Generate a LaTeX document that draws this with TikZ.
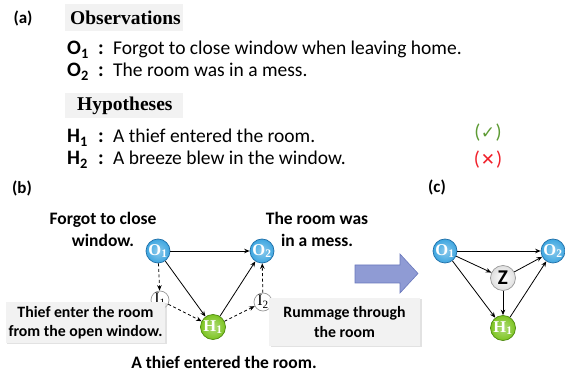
\documentclass[tikz,border=0pt]{standalone}
\usepackage{fontspec}
\setmainfont{Carlito}
\newfontfamily\headfont{Liberation Serif}
\newfontfamily\symfont{DejaVu Sans}
\usetikzlibrary{arrows.meta,shadows}

\definecolor{obsblue}{HTML}{3EA6E0}
\definecolor{obsedge}{HTML}{1F6FA8}
\definecolor{hypgreen}{HTML}{7CC420}
\definecolor{hypedge}{HTML}{4E8A10}
\definecolor{boxgray}{HTML}{F2F2F2}
\definecolor{okgreen}{HTML}{5E9B35}
\definecolor{badred}{HTML}{F0202A}
\definecolor{arrowfill}{HTML}{8F9BD4}
\definecolor{arrowedge}{HTML}{6A78BC}

\tikzset{
  base/.style={circle, inner sep=0pt, line width=0.7pt},
  obsnode/.style={base, minimum size=24pt, draw=obsedge,
    inner color=obsblue!60!white, outer color=obsblue,
    text=white, font=\headfont\bfseries\fontsize{16.5}{16.5}\selectfont},
  hypnode/.style={base, minimum size=25pt, draw=hypedge,
    inner color=hypgreen!60!white, outer color=hypgreen,
    text=white, font=\headfont\bfseries\fontsize{16.5}{16.5}\selectfont},
  midnode/.style={base, minimum size=18pt, draw=gray!80, fill=white,
    text=black, font=\headfont\fontsize{16}{16}\selectfont},
  znode/.style={base, minimum size=25pt, draw=gray!80,
    inner color=white, outer color=gray!25,
    text=black, font=\bfseries\fontsize{21}{21}\selectfont},
  link/.style={-{Stealth[length=5.5pt,width=4.5pt]}, line width=0.8pt},
  dlink/.style={link, dash pattern=on 3pt off 2.5pt},
  notebox/.style={fill=boxgray, align=center, inner sep=3pt,
    font=\bfseries\fontsize{15.8}{19.5}\selectfont,
    drop shadow={shadow xshift=1.5pt, shadow yshift=-1.5pt, fill=gray!45}},
  caption/.style={align=center, font=\bfseries\fontsize{17.5}{22}\selectfont},
  panel/.style={font=\bfseries\fontsize{17}{17}\selectfont},
  heading/.style={anchor=base west, inner sep=0pt,
    font=\headfont\bfseries\fontsize{19.5}{19.5}\selectfont},
  entry/.style={anchor=base west, inner sep=0pt, font=\fontsize{19.5}{19.5}\selectfont},
  tag/.style={entry, font=\bfseries\fontsize{20.5}{20.5}\selectfont},
  verdict/.style={inner sep=0pt, font=\fontsize{20}{20}\selectfont},
}

\begin{document}
\begin{tikzpicture}[x=1pt, y=-1pt]
\useasboundingbox (0,0) rectangle (565,371);

% ---- (a) observations and hypotheses
\node[panel] (pa) at (23,18) {(a)};

\fill[boxgray] (65,4) rectangle (183,31);
\node[heading] (obshead) at (70,25) {Observations};

\node[tag] (o1lab) at (67,55) {O\textsubscript{1}};
\node[tag] (o1col) at (98,55) {:};
\node[entry] (o1txt) at (113,55) {Forgot to close window when leaving home.};
\node[tag] (o2lab) at (67,77) {O\textsubscript{2}};
\node[tag] (o2col) at (98,77) {:};
\node[entry] (o2txt) at (113,77) {The room was in a mess.};

\fill[boxgray] (65,93) rectangle (183,118);
\node[heading] (hyphead) at (77,111) {Hypotheses};

\node[tag] (h1lab) at (67,143) {H\textsubscript{1}};
\node[tag] (h1col) at (98,143) {:};
\node[entry] (h1txt) at (113,143) {A thief entered the room.};
\node[tag] (h2lab) at (67,165) {H\textsubscript{2}};
\node[tag] (h2col) at (98,165) {:};
\node[entry] (h2txt) at (113,165) {A breeze blew in the window.};

\node[verdict, text=okgreen] (okmark) at (488,133) {(\kern0.5pt{\symfont\fontsize{17}{17}\selectfont ✓}\kern0.5pt)};
\node[verdict, text=badred] (badmark) at (488,160) {(\kern1pt{\symfont\fontsize{17}{17}\selectfont ✕}\kern1pt)};

% ---- (b) explanation graph
\node[panel] (pb) at (22,188) {(b)};

\node[obsnode] (O1) at (158,251) {O\textsubscript{1}};
\node[obsnode] (O2) at (262,251) {O\textsubscript{2}};
\node[midnode] (I1) at (160,300) {I\textsubscript{1}};
\node[midnode] (I2) at (263,302) {I\textsubscript{2}};
\node[hypnode] (H1) at (213,327) {H\textsubscript{1}};

\draw[link] (O1) -- (O2);
\draw[link] (O1) -- (H1);
\draw[link] (H1) -- (O2);
\draw[dlink] (O1) -- (I1);
\draw[dlink] (I1) -- (H1);
\draw[dlink] (H1) -- (I2);
\draw[dlink] (I2) -- (O2);

\node[caption] (capO1) at (103,229) {Forgot to close\\window.};
\node[caption] (capO2) at (317,229) {The room was\\in a mess.};
\node[caption, anchor=base, inner sep=0pt] (capH1) at (224,368) {A thief entered the room.};

\node[notebox, minimum width=155pt, minimum height=41pt] (noteI1) at (85.5,322.5) {Thief enter the room\\from the open window.};
\node[notebox, minimum width=151pt, minimum height=48pt] (noteI2) at (344.5,322) {Rummage through\\the room};

% ---- block arrow between panels
\filldraw[fill=arrowfill, draw=arrowedge, line width=0.6pt]
  (355,265) -- (400,265) -- (400,254) -- (418,273.5) -- (400,293) -- (400,283) -- (355,283) -- cycle;

% ---- (c) graph with latent variable
\node[panel] (pc) at (437,187) {(c)};

\node[obsnode] (cO1) at (445,251) {O\textsubscript{1}};
\node[obsnode] (cO2) at (553,251) {O\textsubscript{2}};
\node[znode] (cZ) at (503,278) {Z};
\node[hypnode] (cH1) at (503,328) {H\textsubscript{1}};

\draw[link] (cO1) -- (cO2);
\draw[link] (cO1) -- (cZ);
\draw[link] (cZ) -- (cO2);
\draw[link] (cO1) -- (cH1);
\draw[link] (cZ) -- (cH1);
\draw[link] (cH1) -- (cO2);
\end{tikzpicture}
\end{document}
